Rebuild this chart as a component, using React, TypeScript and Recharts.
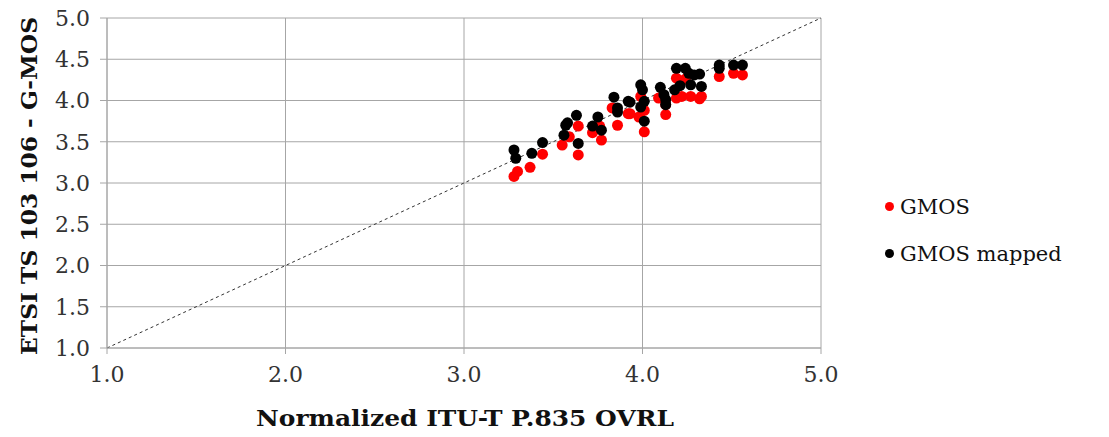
import { ScatterChart, Scatter, XAxis, YAxis, CartesianGrid, ReferenceLine } from 'recharts'

const X_TICKS = [1, 2, 3, 4, 5]
const Y_TICKS = [1, 1.5, 2, 2.5, 3, 3.5, 4, 4.5, 5]

// GMOS (red)
const gmosX = [3.28, 3.3, 3.37, 3.44, 3.55, 3.59, 3.64, 3.64, 3.72, 3.76, 3.77, 3.83, 3.86, 3.92, 3.93, 3.99, 3.98, 4.01, 4.01, 4.09, 4.13, 4.13, 4.19, 4.24, 4.19, 4.22, 4.27, 4.32, 4.33, 4.43, 4.51, 4.56]
const gmosY = [3.08, 3.14, 3.19, 3.35, 3.46, 3.56, 3.69, 3.34, 3.61, 3.69, 3.52, 3.91, 3.7, 3.84, 3.84, 4.05, 3.8, 3.88, 3.62, 4.03, 3.95, 3.83, 4.27, 4.26, 4.03, 4.05, 4.05, 4.02, 4.05, 4.29, 4.33, 4.31]

// GMOS mapped (black)
const mappedX = [3.28, 3.29, 3.38, 3.44, 3.56, 3.57, 3.58, 3.63, 3.64, 3.72, 3.75, 3.77, 3.84, 3.86, 3.86, 3.92, 3.93, 3.99, 4.0, 3.99, 4.01, 4.01, 4.1, 4.12, 4.13, 4.13, 4.19, 4.24, 4.26, 4.18, 4.21, 4.27, 4.29, 4.32, 4.33, 4.43, 4.43, 4.51, 4.56]
const mappedY = [3.4, 3.3, 3.36, 3.49, 3.58, 3.7, 3.73, 3.82, 3.48, 3.69, 3.8, 3.64, 4.04, 3.91, 3.86, 3.99, 3.98, 4.19, 4.13, 3.92, 3.99, 3.75, 4.16, 4.07, 4.01, 3.95, 4.39, 4.39, 4.33, 4.13, 4.18, 4.19, 4.31, 4.32, 4.17, 4.43, 4.39, 4.43, 4.43]

const gmos = gmosX.map((x, i) => ({ x, y: gmosY[i] }))
const mapped = mappedX.map((x, i) => ({ x, y: mappedY[i] }))

const FONT = '"DejaVu Serif", "Liberation Serif", serif'
const GRID = '#a6a6a6'

const dot = (color: string) => (props: any) => (
  <circle cx={props.cx} cy={props.cy} r={5.5} fill={color} />
)

const SERIES = [
  { name: 'GMOS', color: '#ff0000' },
  { name: 'GMOS mapped', color: '#000000' },
]

export default function App() {
  return (
    <div style={{ position: 'absolute', left: 0, top: 0, width: 1109, height: 437, background: '#fff' }}>
      <ScatterChart width={1109} height={437} margin={{ top: 18, right: 288, bottom: 0, left: 0 }}>
        <CartesianGrid stroke={GRID} strokeWidth={1} />
        <XAxis
          type="number"
          dataKey="x"
          domain={[1, 5]}
          ticks={X_TICKS}
          interval={0}
          tickFormatter={(v: number) => v.toFixed(1)}
          allowDataOverflow
          stroke={GRID}
          tickSize={6}
          tickMargin={12}
          height={89}
          tick={{ fontSize: 22, fill: '#333', fontFamily: FONT }}
          label={() => (
            <text x={465} y={426} textAnchor="middle" fontFamily={FONT} fontSize={22} fontWeight="bold" fill="#111"
              textLength={418} lengthAdjust="spacingAndGlyphs">
              Normalized ITU-T P.835 OVRL
            </text>
          )}
        />
        <YAxis
          type="number"
          dataKey="y"
          domain={[1, 5]}
          ticks={Y_TICKS}
          interval={0}
          tickFormatter={(v: number) => v.toFixed(1)}
          allowDataOverflow
          stroke={GRID}
          tickSize={7}
          tickMargin={10}
          width={107}
          tick={{ fontSize: 22, fill: '#333', fontFamily: FONT }}
          label={() => (
            <text x={37} y={186} transform="rotate(-90 37 186)" textAnchor="middle" fontFamily={FONT} fontSize={22} fontWeight="bold" fill="#111"
              textLength={338} lengthAdjust="spacingAndGlyphs">
              ETSI TS 103 106 - G-MOS
            </text>
          )}
        />
        <ReferenceLine
          segment={[{ x: 1, y: 1 }, { x: 5, y: 5 }]}
          stroke="#333"
          strokeWidth={1}
          strokeDasharray="3 3"
        />
        <Scatter name="GMOS" data={gmos} fill="#ff0000" shape={dot('#ff0000')} isAnimationActive={false} />
        <Scatter name="GMOS mapped" data={mapped} fill="#000000" shape={dot('#000000')} isAnimationActive={false} />
      </ScatterChart>
      <div style={{ position: 'absolute', left: 885, top: 183, fontFamily: FONT, fontSize: 21, color: '#111' }}>
        {SERIES.map((s) => (
          <div key={s.name} style={{ display: 'flex', alignItems: 'center', height: 47 }}>
            <span style={{ width: 9, height: 9, borderRadius: '50%', background: s.color, marginRight: 6 }} />
            {s.name}
          </div>
        ))}
      </div>
    </div>
  )
}
